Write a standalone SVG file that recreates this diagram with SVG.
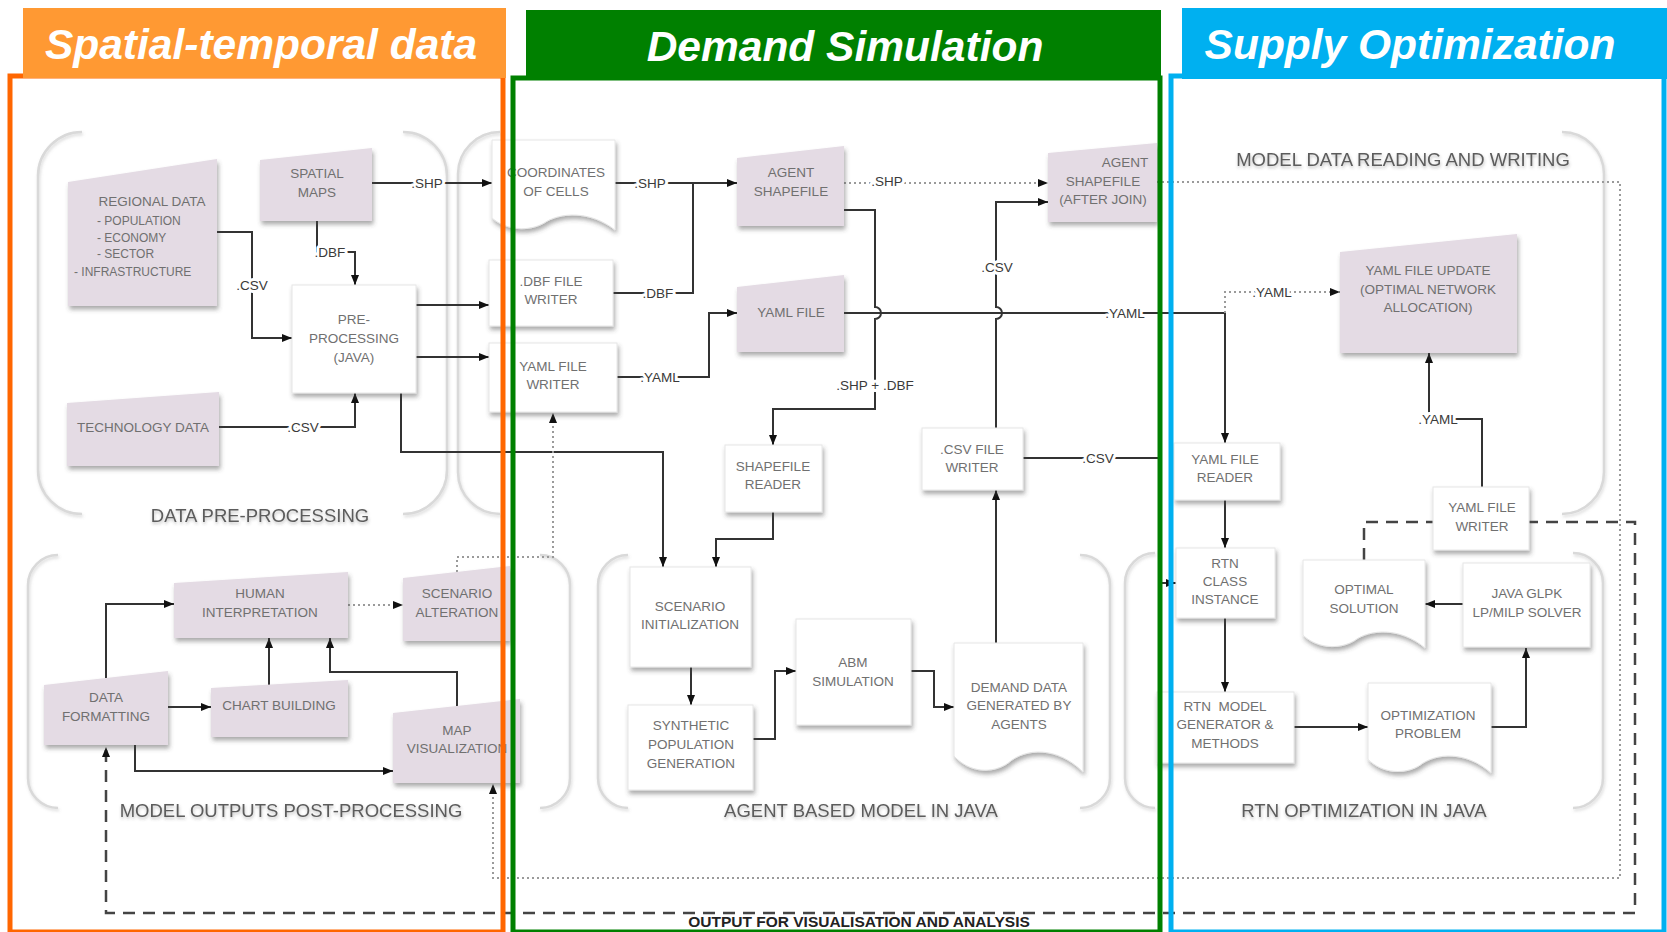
<svg xmlns="http://www.w3.org/2000/svg" width="1667" height="932" viewBox="0 0 1667 932">
<defs>
<style>
.t{font-family:"Liberation Sans",Arial,sans-serif;font-size:13.5px;fill:#707070;text-anchor:middle}
.ts{font-family:"Liberation Sans",Arial,sans-serif;font-size:12px;fill:#707070}
.lbl{font-family:"Liberation Sans",Arial,sans-serif;font-size:13.5px;fill:#3a3a3a;text-anchor:middle;paint-order:stroke;stroke:#fff;stroke-width:6px;stroke-linejoin:round}
.g{font-family:"Liberation Sans",Arial,sans-serif;font-size:18.5px;fill:#5c5c5c;text-anchor:middle}
.hd{font-family:"Liberation Sans",Arial,sans-serif;font-size:42.5px;font-weight:bold;font-style:italic;fill:#fff;text-anchor:middle}
.out{font-family:"Liberation Sans",Arial,sans-serif;font-size:15.5px;font-weight:bold;fill:#222;text-anchor:middle}
.p{fill:#E4DBE4;filter:url(#sh)}
.w{fill:#fff;stroke:#e6e6e6;stroke-width:1;filter:url(#sh)}
.c{fill:none;stroke:#333;stroke-width:2}
.dot{fill:none;stroke:#9a9a9a;stroke-width:2;stroke-dasharray:2 3}
.dash{fill:none;stroke:#444;stroke-width:2.5;stroke-dasharray:12 8}
.br{fill:none;stroke:#d9d9d9;stroke-width:2.5;filter:url(#bs)}
</style>
<filter id="sh" x="-15%" y="-15%" width="135%" height="145%">
<feDropShadow dx="1.5" dy="3.5" stdDeviation="2" flood-color="#444" flood-opacity="0.45"/>
</filter>
<filter id="bs" x="-20%" y="-5%" width="140%" height="110%">
<feDropShadow dx="1" dy="2" stdDeviation="1.5" flood-color="#888" flood-opacity="0.3"/>
</filter>
<filter id="ts" x="-5%" y="-30%" width="110%" height="160%">
<feDropShadow dx="0.5" dy="2" stdDeviation="1.5" flood-color="#444" flood-opacity="0.35"/>
</filter>
<marker id="a" viewBox="0 0 10 8" refX="10" refY="4" markerWidth="10" markerHeight="8" markerUnits="userSpaceOnUse" orient="auto">
<path d="M0,0 L10,4 L0,8 z" fill="#111"/>
</marker>
</defs>
<rect width="1667" height="932" fill="#fff"/>

<g id="group-brackets">
<path class="br" d="M82 132 A44 44 0 0 0 38 176 V470 A44 44 0 0 0 82 514"/>
<path class="br" d="M403 132 A44 44 0 0 1 447 176 V470 A44 44 0 0 1 403 514"/>
<path class="br" d="M500 132 A42 42 0 0 0 458 174 V472 A42 42 0 0 0 500 514"/>
<path class="br" d="M1562 132 A42 42 0 0 1 1604 174 V472 A42 42 0 0 1 1562 514"/>
<path class="br" d="M58 555 A30 30 0 0 0 28 585 V778 A30 30 0 0 0 58 808"/>
<path class="br" d="M540 555 A30 30 0 0 1 570 585 V778 A30 30 0 0 1 540 808"/>
<path class="br" d="M628 555 A30 30 0 0 0 598 585 V778 A30 30 0 0 0 628 808"/>
<path class="br" d="M1080 555 A30 30 0 0 1 1110 585 V778 A30 30 0 0 1 1080 808"/>
<path class="br" d="M1155 553 A30 30 0 0 0 1125 583 V778 A30 30 0 0 0 1155 808"/>
<path class="br" d="M1573 553 A30 30 0 0 1 1603 583 V778 A30 30 0 0 1 1573 808"/>
</g>

<g id="group-labels" filter="url(#ts)">
<text class="g" x="260" y="522">DATA PRE-PROCESSING</text>
<text class="g" x="291" y="817">MODEL OUTPUTS POST-PROCESSING</text>
<text class="g" x="861" y="817">AGENT BASED MODEL IN JAVA</text>
<text class="g" x="1364" y="817">RTN OPTIMIZATION IN JAVA</text>
<text class="g" x="1403" y="166">MODEL DATA READING AND WRITING</text>
</g>

<g id="connectors">
<path class="c" d="M372 183 H492" marker-end="url(#a)"/>
<path class="c" d="M317 221 V252 H355 V285" marker-end="url(#a)"/>
<path class="c" d="M217 232 H252 V338 H292" marker-end="url(#a)"/>
<path class="c" d="M416 305 H489" marker-end="url(#a)"/>
<path class="c" d="M416 357 H489" marker-end="url(#a)"/>
<path class="c" d="M218 427 H355 V393" marker-end="url(#a)"/>
<path class="c" d="M401 393 V452 H663 V567" marker-end="url(#a)"/>
<path class="c" d="M615 183 H737" marker-end="url(#a)"/>
<path class="c" d="M612 293 H693 V183"/>
<path class="c" d="M617 377 H709 V313 H737" marker-end="url(#a)"/>
<path class="c" d="M844 313 H1225 V443" marker-end="url(#a)"/>
<path class="c" d="M844 210 H875 V307 A6 6 0 0 1 875 319 V409 H773 V445" marker-end="url(#a)"/>
<path class="c" d="M996 428 V319 A6 6 0 0 0 996 307 V202 H1048" marker-end="url(#a)"/>
<path class="c" d="M1023 458 H1160 V583 H1176" marker-end="url(#a)"/>
<path class="c" d="M996 643 V490" marker-end="url(#a)"/>
<path class="c" d="M773 512 V539 H716 V567" marker-end="url(#a)"/>
<path class="c" d="M691 667 V705" marker-end="url(#a)"/>
<path class="c" d="M753 739 H775 V671 H796" marker-end="url(#a)"/>
<path class="c" d="M911 671 H934 V707 H954" marker-end="url(#a)"/>
<path class="c" d="M1225 500 V548" marker-end="url(#a)"/>
<path class="c" d="M1225 618 V692" marker-end="url(#a)"/>
<path class="c" d="M1294 727 H1368" marker-end="url(#a)"/>
<path class="c" d="M1491 727 H1526 V648" marker-end="url(#a)"/>
<path class="c" d="M1463 604 H1425" marker-end="url(#a)"/>
<path class="c" d="M1482 487 V419 H1429 V353" marker-end="url(#a)"/>
<path class="c" d="M106 678 V604 H174" marker-end="url(#a)"/>
<path class="c" d="M168 707 H211" marker-end="url(#a)"/>
<path class="c" d="M269 685 V638" marker-end="url(#a)"/>
<path class="c" d="M457 706 V672 H330 V638" marker-end="url(#a)"/>
<path class="c" d="M135 745 V771 H393" marker-end="url(#a)"/>
<path class="dot" d="M844 183 H1048" marker-end="url(#a)"/>
<path class="dot" d="M1225 313 V292 H1340" marker-end="url(#a)"/>
<path class="dot" d="M348 605 H403" marker-end="url(#a)"/>
<path class="dot" d="M457 572 V557 H553 V413" marker-end="url(#a)"/>
<path class="dot" d="M1157 182 H1620 V878 H493 V784" marker-end="url(#a)"/>
<path class="dash" d="M1364 560 V522 H1635 V913 H106 V747" marker-end="url(#a)"/>
<text class="lbl" x="427" y="188">.SHP</text>
<text class="lbl" x="330" y="257">.DBF</text>
<text class="lbl" x="252" y="290">.CSV</text>
<text class="lbl" x="303" y="432">.CSV</text>
<text class="lbl" x="650" y="188">.SHP</text>
<text class="lbl" x="658" y="298">.DBF</text>
<text class="lbl" x="660" y="382">.YAML</text>
<text class="lbl" x="887" y="186">.SHP</text>
<text class="lbl" x="997" y="272">.CSV</text>
<text class="lbl" x="875" y="390">.SHP + .DBF</text>
<text class="lbl" x="1125" y="318">.YAML</text>
<text class="lbl" x="1098" y="463">.CSV</text>
<text class="lbl" x="1272" y="297">.YAML</text>
<text class="lbl" x="1438" y="424">.YAML</text>
<text class="out" x="859" y="927">OUTPUT FOR VISUALISATION AND ANALYSIS</text>
</g>

<g id="n-regional-data">
<polygon class="p" points="68,182 217,159 217,306 68,306"/>
<text class="t" x="152" y="206">REGIONAL DATA</text>
<text class="ts" x="97" y="225">- POPULATION</text>
<text class="ts" x="97" y="242">- ECONOMY</text>
<text class="ts" x="97" y="258">- SECTOR</text>
<text class="ts" x="74" y="276">- INFRASTRUCTURE</text>
</g>
<g id="n-spatial-maps">
<polygon class="p" points="260,160 372,148 372,221 260,221"/>
<text class="t" x="317" y="178">SPATIAL</text>
<text class="t" x="317" y="197">MAPS</text>
</g>
<g id="n-pre-processing">
<rect class="w" x="292" y="285" width="124" height="108"/>
<text class="t" x="354" y="324">PRE-</text>
<text class="t" x="354" y="343">PROCESSING</text>
<text class="t" x="354" y="362">(JAVA)</text>
</g>
<g id="n-technology-data">
<polygon class="p" points="67,403 219,392 219,466 67,466"/>
<text class="t" x="143" y="432">TECHNOLOGY DATA</text>
</g>
<g id="n-coordinates">
<path class="w" d="M492 140 H615 V230 C590.4 210.5 559.7 212 543.7 223.3 C528.9 231.5 506.8 230.8 492 218 Z"/>
<text class="t" x="556" y="177">COORDINATES</text>
<text class="t" x="556" y="196">OF CELLS</text>
</g>
<g id="n-dbf-writer">
<rect class="w" x="489" y="260" width="124" height="66"/>
<text class="t" x="551" y="286">.DBF FILE</text>
<text class="t" x="551" y="304">WRITER</text>
</g>
<g id="n-yaml-writer">
<rect class="w" x="489" y="343" width="128" height="69"/>
<text class="t" x="553" y="371">YAML FILE</text>
<text class="t" x="553" y="389">WRITER</text>
</g>
<g id="n-agent-shapefile">
<polygon class="p" points="737,158 844,146 844,226 737,226"/>
<text class="t" x="791" y="177">AGENT</text>
<text class="t" x="791" y="196">SHAPEFILE</text>
</g>
<g id="n-yaml-file">
<polygon class="p" points="737,287 844,275 844,352 737,352"/>
<text class="t" x="791" y="317">YAML FILE</text>
</g>
<g id="n-agent-shapefile-join">
<polygon class="p" points="1048,153 1157,143 1157,222 1048,222"/>
<text class="t" x="1125" y="167">AGENT</text>
<text class="t" x="1103" y="186">SHAPEFILE</text>
<text class="t" x="1103" y="204">(AFTER JOIN)</text>
</g>
<g id="n-shapefile-reader">
<rect class="w" x="725" y="445" width="97" height="67"/>
<text class="t" x="773" y="471">SHAPEFILE</text>
<text class="t" x="773" y="489">READER</text>
</g>
<g id="n-scenario-init">
<rect class="w" x="630" y="567" width="121" height="100"/>
<text class="t" x="690" y="611">SCENARIO</text>
<text class="t" x="690" y="629">INITIALIZATION</text>
</g>
<g id="n-synthetic-population">
<rect class="w" x="628" y="705" width="125" height="85"/>
<text class="t" x="691" y="730">SYNTHETIC</text>
<text class="t" x="691" y="749">POPULATION</text>
<text class="t" x="691" y="768">GENERATION</text>
</g>
<g id="n-abm-simulation">
<rect class="w" x="796" y="619" width="115" height="106"/>
<text class="t" x="853" y="667">ABM</text>
<text class="t" x="853" y="686">SIMULATION</text>
</g>
<g id="n-demand-data">
<path class="w" d="M954 643 H1083 V772 C1057.2 746 1025 748 1008.2 763 C992.7 774 969.5 773 954 756 Z"/>
<text class="t" x="1019" y="692">DEMAND DATA</text>
<text class="t" x="1019" y="710">GENERATED BY</text>
<text class="t" x="1019" y="729">AGENTS</text>
</g>
<g id="n-csv-writer">
<rect class="w" x="922" y="428" width="101" height="62"/>
<text class="t" x="972" y="454">.CSV FILE</text>
<text class="t" x="972" y="472">WRITER</text>
</g>
<g id="n-yaml-reader">
<rect class="w" x="1174" y="443" width="106" height="57"/>
<text class="t" x="1225" y="464">YAML FILE</text>
<text class="t" x="1225" y="482">READER</text>
</g>
<g id="n-rtn-class">
<rect class="w" x="1176" y="548" width="99" height="70"/>
<text class="t" x="1225" y="568">RTN</text>
<text class="t" x="1225" y="586">CLASS</text>
<text class="t" x="1225" y="604">INSTANCE</text>
</g>
<g id="n-rtn-generator">
<rect class="w" x="1157" y="692" width="137" height="71"/>
<text class="t" x="1225" y="711" xml:space="preserve">RTN  MODEL</text>
<text class="t" x="1225" y="729">GENERATOR &amp;</text>
<text class="t" x="1225" y="748">METHODS</text>
</g>
<g id="n-optimization-problem">
<path class="w" d="M1368 683 H1491 V773 C1466.4 750.9 1435.7 752.6 1419.7 765.4 C1404.9 774.7 1382.8 773.9 1368 759.4 Z"/>
<text class="t" x="1428" y="720">OPTIMIZATION</text>
<text class="t" x="1428" y="738">PROBLEM</text>
</g>
<g id="n-java-glpk">
<rect class="w" x="1463" y="563" width="127" height="84"/>
<text class="t" x="1527" y="598">JAVA GLPK</text>
<text class="t" x="1527" y="617">LP/MILP SOLVER</text>
</g>
<g id="n-optimal-solution">
<path class="w" d="M1303 560 H1425 V648 C1400.6 627.2 1370.1 628.8 1354.2 640.8 C1339.6 649.6 1317.6 648.8 1303 635.2 Z"/>
<text class="t" x="1364" y="594">OPTIMAL</text>
<text class="t" x="1364" y="613">SOLUTION</text>
</g>
<g id="n-yaml-writer-supply">
<rect class="w" x="1433" y="487" width="96" height="63"/>
<text class="t" x="1482" y="512">YAML FILE</text>
<text class="t" x="1482" y="531">WRITER</text>
</g>
<g id="n-yaml-update">
<polygon class="p" points="1340,252 1517,234 1517,353 1340,353"/>
<text class="t" x="1428" y="275">YAML FILE UPDATE</text>
<text class="t" x="1428" y="294">(OPTIMAL NETWORK</text>
<text class="t" x="1428" y="312">ALLOCATION)</text>
</g>
<g id="n-human-interpretation">
<polygon class="p" points="174,583 348,572 348,638 174,638"/>
<text class="t" x="260" y="598">HUMAN</text>
<text class="t" x="260" y="617">INTERPRETATION</text>
</g>
<g id="n-scenario-alteration">
<polygon class="p" points="403,578 510,566 510,641 403,641"/>
<text class="t" x="457" y="598">SCENARIO</text>
<text class="t" x="457" y="617">ALTERATION</text>
</g>
<g id="n-data-formatting">
<polygon class="p" points="44,685 168,671 168,745 44,745"/>
<text class="t" x="106" y="702">DATA</text>
<text class="t" x="106" y="721">FORMATTING</text>
</g>
<g id="n-chart-building">
<polygon class="p" points="211,688 348,680 348,737 211,737"/>
<text class="t" x="279" y="710">CHART BUILDING</text>
</g>
<g id="n-map-visualization">
<polygon class="p" points="393,713 520,699 520,783 393,783"/>
<text class="t" x="457" y="735">MAP</text>
<text class="t" x="457" y="753">VISUALIZATION</text>
</g>

<g id="sections">
<rect x="10" y="76" width="493" height="856" fill="none" stroke="#FF6600" stroke-width="5"/>
<rect x="513" y="78" width="647" height="854" fill="none" stroke="#008000" stroke-width="5"/>
<rect x="1171" y="76" width="493" height="856" fill="none" stroke="#00B0F0" stroke-width="5"/>
<rect x="23" y="8" width="483" height="70" fill="#FF9933"/>
<rect x="526" y="10" width="635" height="70" fill="#008000"/>
<rect x="1182" y="8" width="485" height="71" fill="#00B0F0"/>
<text class="hd" x="261" y="59">Spatial-temporal data</text>
<text class="hd" x="845" y="61">Demand Simulation</text>
<text class="hd" x="1410" y="59">Supply Optimization</text>
</g>
</svg>
